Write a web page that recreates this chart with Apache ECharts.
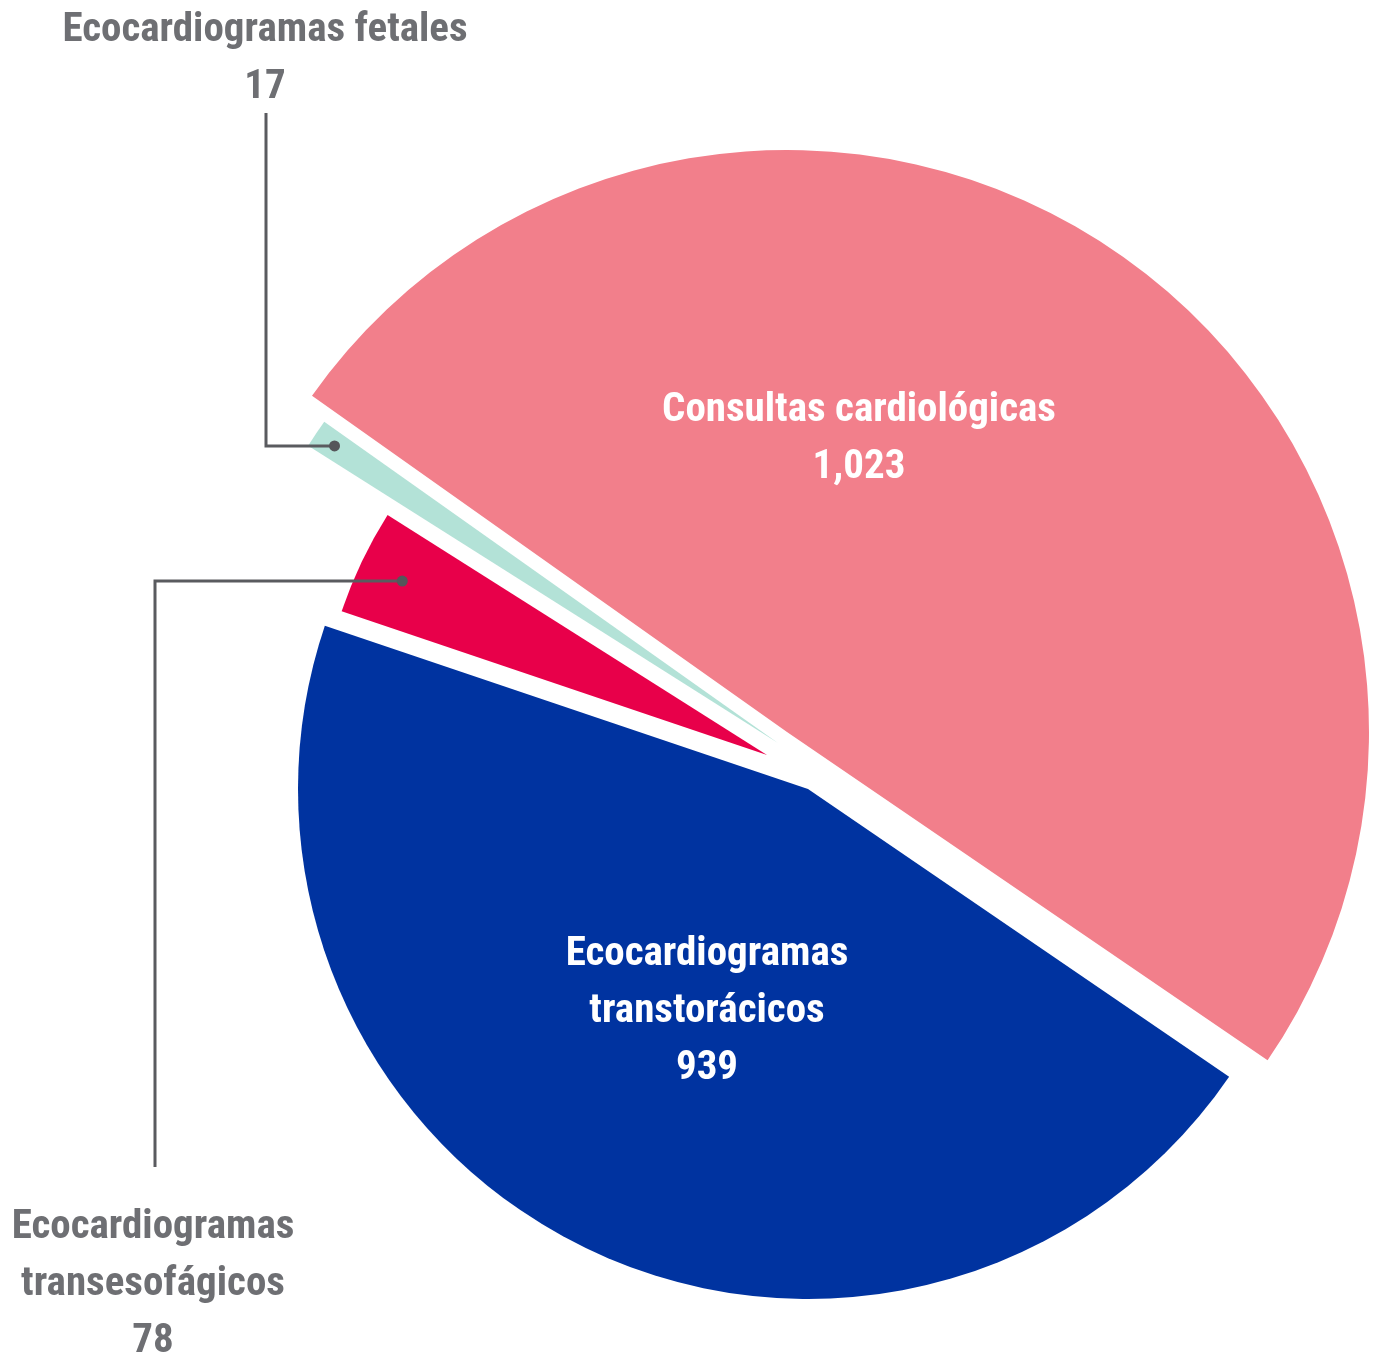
<!DOCTYPE html>
<html>
<head>
<meta charset="utf-8">
<script src="https://cdn.jsdelivr.net/npm/echarts@6/dist/echarts.min.js"></script>
<style>
  html, body { margin: 0; padding: 0; background: #fff; }
  #chart { width: 1377px; height: 1364px; }
</style>
</head>
<body>
<div id="chart"></div>
<script>
const categories = ['Consultas cardiológicas', 'Ecocardiogramas transtorácicos', 'Ecocardiogramas transesofágicos', 'Ecocardiogramas fetales'];
const labelNames = ['Consultas cardiológicas', 'Ecocardiogramas\ntranstorácicos', 'Ecocardiogramas\ntransesofágicos', 'Ecocardiogramas fetales'];
const values = [1023, 939, 78, 17];
const valueLabels = ['1,023', '939', '78', '17'];
const colors = ['#F27F8B', '#0033A0', '#E8004A', '#B3E2D7'];

const FONT = '"Roboto Condensed", "Liberation Sans Narrow", sans-serif';

// each slice is drawn by its own pie (same data, other slices transparent)
// so that every wedge can keep its own centre and radius
const slices = [
  { center: [787, 732], radius: 582, inside: true,  pos: [859, 439] },
  { center: [808, 789], radius: 510, inside: true,  pos: [707, 1012] },
  { center: [767, 755], radius: 449, inside: false, pos: [153, 1285] },
  { center: [778, 743], radius: 556, inside: false, pos: [265, 59] }
];

// leader lines: depth of the dot inside the wedge, x of the vertical run, end y
const leaders = [
  { index: 2, depth: 0.9,  x: 155, endY: 1167 },
  { index: 3, depth: 0.96, x: 266, endY: 113 }
];

const chart = echarts.init(document.getElementById('chart'));

const series = slices.map((s, k) => ({
  type: 'pie',
  center: s.center,
  radius: s.radius,
  startAngle: 144.7,
  clockwise: true,
  silent: true,
  animation: false,
  avoidLabelOverlap: false,
  minShowLabelAngle: 0,
  emphasis: { disabled: true },
  labelLine: { show: false },
  labelLayout: { x: s.pos[0], y: s.pos[1], align: 'center', verticalAlign: 'middle' },
  data: values.map((v, i) => ({
    value: v,
    name: categories[i],
    itemStyle: { color: i === k ? colors[i] : 'rgba(0,0,0,0)' },
    label: {
      show: i === k,
      position: s.inside ? 'inside' : 'outside',
      formatter: labelNames[i] + '\n' + valueLabels[i],
      color: s.inside ? '#ffffff' : '#6E6F73',
      fontFamily: FONT,
      fontWeight: 'bold',
      fontSize: 41,
      lineHeight: 57,
      align: 'center'
    }
  }))
}));

chart.setOption({
  backgroundColor: '#ffffff',
  animation: false,
  series: series
});

// leader lines and dots, anchored on the laid-out wedges
const graphics = [];
leaders.forEach((ld) => {
  const layout = chart.getModel().getSeriesByIndex(ld.index).getData().getItemLayout(ld.index);
  const mid = (layout.startAngle + layout.endAngle) / 2;
  const ax = layout.cx + layout.r * ld.depth * Math.cos(mid);
  const ay = layout.cy + layout.r * ld.depth * Math.sin(mid);
  graphics.push({
    type: 'polyline',
    silent: true,
    z: 100,
    shape: { points: [[ax, ay], [ld.x, ay], [ld.x, ld.endY]] },
    style: { stroke: '#5A5B5F', lineWidth: 3, fill: null }
  });
  graphics.push({
    type: 'circle',
    silent: true,
    z: 101,
    shape: { cx: ax, cy: ay, r: 5.5 },
    style: { fill: '#55565A' }
  });
});
chart.setOption({ graphic: graphics });
</script>
</body>
</html>
